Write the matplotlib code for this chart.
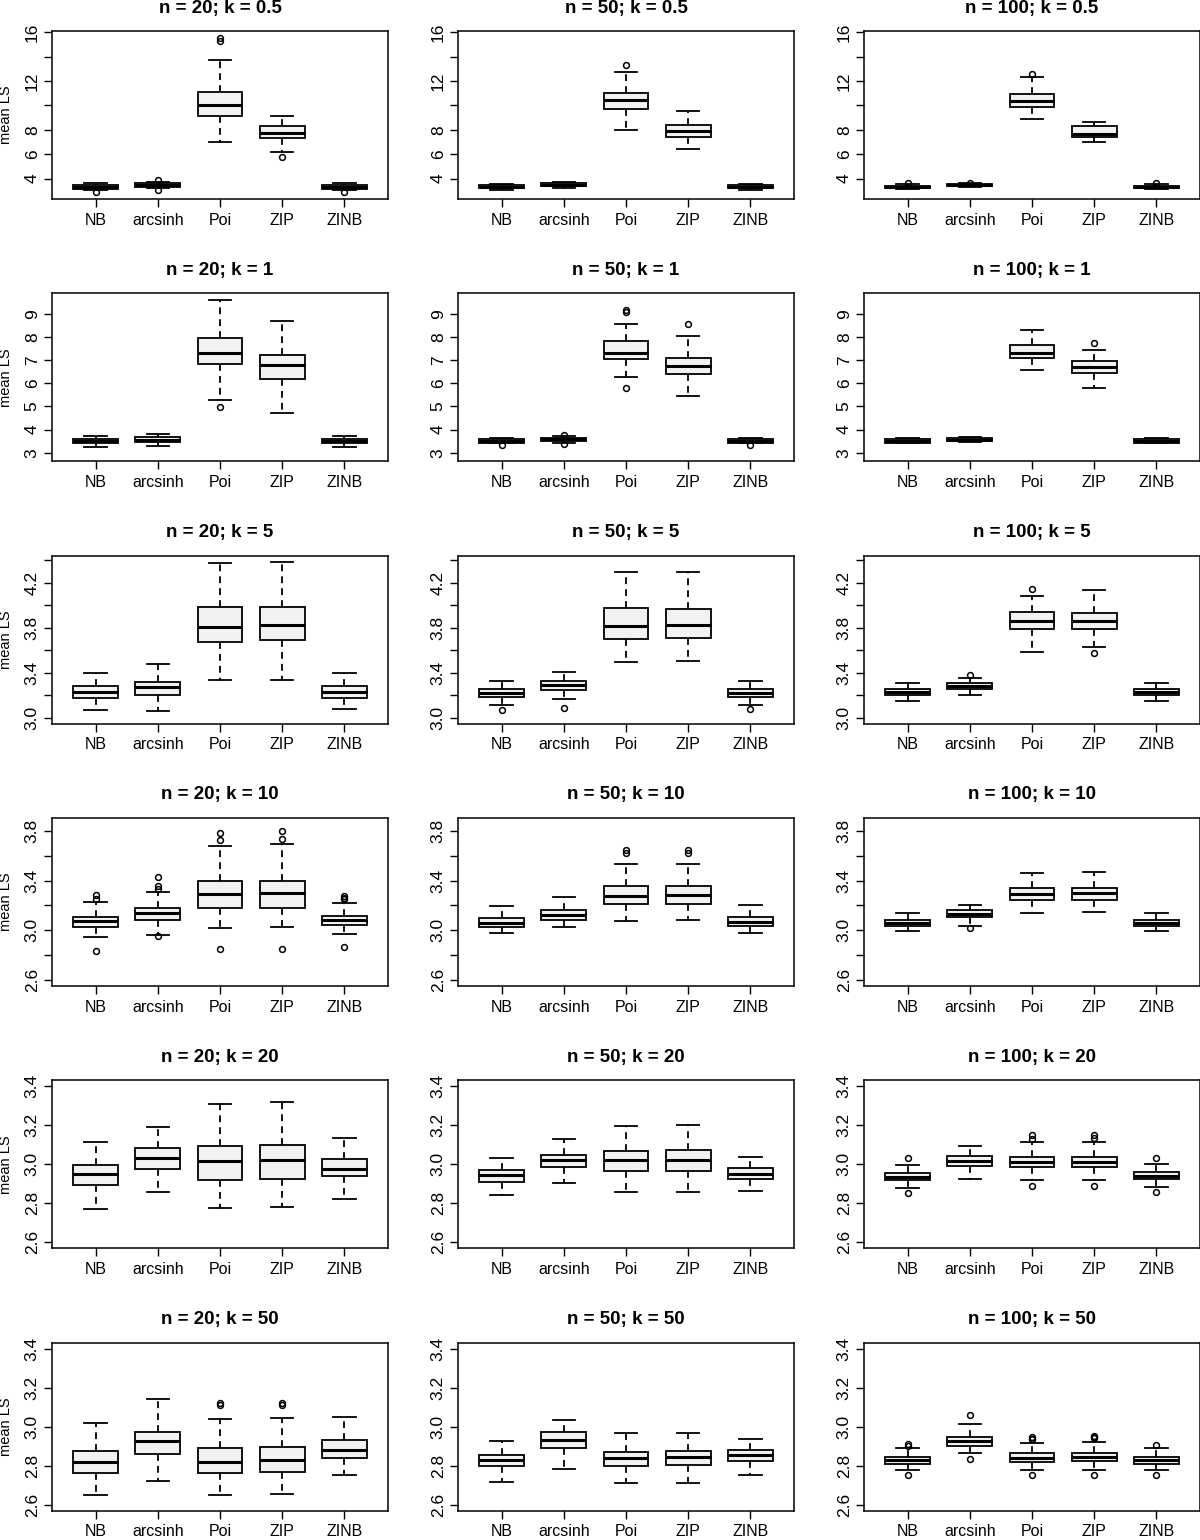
import matplotlib
matplotlib.use("Agg")
import matplotlib.pyplot as plt

plt.rcParams["font.family"] = ["Liberation Sans", "DejaVu Sans"]

methods = ["NB", "arcsinh", "Poi", "ZIP", "ZINB"]
n_values = [20, 50, 100]
k_values = [0.5, 1, 5, 10, 20, 50]

# each box: [lower whisker, q1, median, q3, upper whisker]
s_n20_k05 = [[3.07, 3.18, 3.32, 3.45, 3.67], [3.20, 3.34, 3.48, 3.62, 3.75],
             [7.03, 9.11, 10.0, 11.1, 13.7], [6.21, 7.31, 7.77, 8.34, 9.16],
             [3.09, 3.18, 3.32, 3.45, 3.67]]
f_n20_k05 = [[2.93], [3.07, 3.86], [15.3, 15.55], [5.75], [2.93]]
s_n50_k05 = [[3.08, 3.22, 3.33, 3.45, 3.58], [3.25, 3.38, 3.50, 3.62, 3.72],
             [7.99, 9.68, 10.42, 11.02, 12.77], [6.40, 7.39, 7.91, 8.43, 9.55],
             [3.05, 3.22, 3.33, 3.45, 3.58]]
f_n50_k05 = [[], [], [13.3], [], []]
s_n100_k05 = [[3.15, 3.23, 3.33, 3.43, 3.54], [3.35, 3.42, 3.48, 3.55, 3.62],
              [8.89, 9.90, 10.37, 10.97, 12.33], [7.03, 7.42, 7.66, 8.34, 8.67],
              [3.15, 3.23, 3.33, 3.43, 3.54]]
f_n100_k05 = [[3.62], [3.68], [12.6], [], [3.62]]

s_n20_k1 = [[3.24, 3.42, 3.50, 3.59, 3.73], [3.30, 3.46, 3.56, 3.66, 3.79],
            [5.28, 6.82, 7.33, 7.96, 9.60], [4.72, 6.20, 6.79, 7.22, 8.68],
            [3.24, 3.42, 3.50, 3.59, 3.73]]
f_n20_k1 = [[], [], [4.98], [], []]
s_n50_k1 = [[3.40, 3.44, 3.51, 3.58, 3.65], [3.43, 3.50, 3.58, 3.65, 3.72],
            [6.29, 7.03, 7.29, 7.85, 8.58], [5.47, 6.40, 6.73, 7.09, 8.05],
            [3.40, 3.44, 3.51, 3.58, 3.65]]
f_n50_k1 = [[3.32], [3.37, 3.77], [5.81, 9.10, 9.16], [8.58], [3.32]]
s_n100_k1 = [[3.40, 3.44, 3.50, 3.58, 3.62], [3.46, 3.51, 3.57, 3.64, 3.70],
             [6.57, 7.09, 7.32, 7.66, 8.29], [5.80, 6.46, 6.72, 6.97, 7.42],
             [3.40, 3.44, 3.50, 3.58, 3.62]]
f_n100_k1 = [[], [], [], [7.76], []]

s_n20_k5 = [[3.074, 3.175, 3.234, 3.281, 3.396], [3.062, 3.207, 3.275, 3.320, 3.476],
            [3.334, 3.675, 3.811, 3.982, 4.373], [3.340, 3.689, 3.825, 3.985, 4.385],
            [3.080, 3.180, 3.234, 3.284, 3.402]]
f_n20_k5 = [[], [], [], [], []]
s_n50_k5 = [[3.112, 3.186, 3.225, 3.260, 3.331], [3.166, 3.249, 3.290, 3.325, 3.405],
            [3.497, 3.704, 3.817, 3.976, 4.296], [3.509, 3.707, 3.825, 3.970, 4.296],
            [3.115, 3.186, 3.225, 3.260, 3.328]]
f_n50_k5 = [[3.074], [3.092], [], [], [3.080]]
s_n100_k5 = [[3.154, 3.207, 3.231, 3.254, 3.311], [3.207, 3.260, 3.287, 3.311, 3.358],
             [3.583, 3.790, 3.864, 3.938, 4.086], [3.627, 3.790, 3.858, 3.932, 4.133],
             [3.154, 3.207, 3.231, 3.254, 3.314]]
f_n100_k5 = [[], [3.379], [4.148], [3.580], []]

s_n20_k10 = [[2.946, 3.024, 3.072, 3.110, 3.225], [2.962, 3.086, 3.139, 3.180, 3.311],
             [3.021, 3.182, 3.295, 3.394, 3.678], [3.027, 3.180, 3.300, 3.397, 3.697],
             [2.973, 3.040, 3.080, 3.115, 3.222]]
f_n20_k10 = [[2.831, 3.255, 3.282], [2.954, 3.330, 3.357, 3.426], [2.850, 3.727, 3.786],
             [2.853, 3.735, 3.799], [2.866, 3.249, 3.263, 3.276]]
s_n50_k10 = [[2.976, 3.027, 3.059, 3.099, 3.198], [3.024, 3.083, 3.123, 3.164, 3.265],
             [3.075, 3.212, 3.279, 3.354, 3.531], [3.080, 3.214, 3.284, 3.359, 3.536],
             [2.981, 3.032, 3.067, 3.107, 3.201]]
f_n50_k10 = [[], [], [3.625, 3.645], [3.625, 3.645], []]
s_n100_k10 = [[2.997, 3.035, 3.059, 3.086, 3.139], [3.035, 3.105, 3.131, 3.161, 3.206],
              [3.142, 3.247, 3.295, 3.343, 3.464], [3.145, 3.247, 3.298, 3.343, 3.466],
              [2.997, 3.035, 3.059, 3.086, 3.139]]
f_n100_k10 = [[], [3.019], [], [], []]

s_n20_k20 = [[2.769, 2.892, 2.947, 2.997, 3.113], [2.856, 2.973, 3.029, 3.084, 3.191],
             [2.774, 2.916, 3.017, 3.091, 3.309], [2.778, 2.921, 3.022, 3.097, 3.318],
             [2.819, 2.937, 2.974, 3.024, 3.132]]
f_n20_k20 = [[], [], [], [], []]
s_n50_k20 = [[2.843, 2.909, 2.942, 2.969, 3.032], [2.904, 2.985, 3.021, 3.048, 3.128],
             [2.856, 2.966, 3.021, 3.067, 3.197], [2.856, 2.966, 3.021, 3.072, 3.200],
             [2.863, 2.921, 2.950, 2.979, 3.039]]
f_n50_k20 = [[], [], [], [], []]
s_n100_k20 = [[2.877, 2.918, 2.935, 2.956, 2.997], [2.923, 2.990, 3.017, 3.041, 3.094],
              [2.920, 2.985, 3.010, 3.039, 3.111], [2.920, 2.985, 3.012, 3.039, 3.115],
              [2.882, 2.921, 2.938, 2.959, 2.998]]
f_n100_k20 = [[2.850, 3.029], [], [2.887, 3.130, 3.149], [2.889, 3.132, 3.152], [2.856, 3.029]]

s_n20_k50 = [[2.651, 2.767, 2.821, 2.879, 3.019], [2.726, 2.860, 2.927, 2.974, 3.141],
             [2.651, 2.767, 2.823, 2.893, 3.039], [2.656, 2.772, 2.830, 2.900, 3.048],
             [2.756, 2.843, 2.882, 2.932, 3.053]]
f_n20_k50 = [[], [], [3.110, 3.122], [3.110, 3.122], []]
s_n50_k50 = [[2.721, 2.801, 2.831, 2.859, 2.927], [2.785, 2.893, 2.934, 2.973, 3.034],
             [2.712, 2.802, 2.843, 2.872, 2.968], [2.714, 2.806, 2.848, 2.876, 2.969],
             [2.756, 2.825, 2.855, 2.881, 2.940]]
f_n50_k50 = [[], [], [], [], []]
s_n100_k50 = [[2.779, 2.813, 2.830, 2.848, 2.893], [2.865, 2.905, 2.928, 2.951, 3.014],
              [2.780, 2.823, 2.843, 2.865, 2.920], [2.780, 2.825, 2.847, 2.867, 2.922],
              [2.779, 2.813, 2.830, 2.848, 2.893]]
f_n100_k50 = [[2.753, 2.905, 2.913], [2.836, 3.063], [2.753, 2.937, 2.940, 2.951],
              [2.753, 2.942, 2.948, 2.954], [2.753, 2.908]]

# y-axis per row (k): limits, ticks, which ticks carry a label
row_ylim = [(2.33, 16.11), (2.63, 9.89), (2.95, 4.443), (2.552, 3.905), (2.568, 3.431), (2.573, 3.432)]
row_ticks = [[4, 6, 8, 10, 12, 14, 16], [3, 4, 5, 6, 7, 8, 9],
             [3.0, 3.2, 3.4, 3.6, 3.8, 4.0, 4.2, 4.4], [2.6, 2.8, 3.0, 3.2, 3.4, 3.6, 3.8],
             [2.6, 2.8, 3.0, 3.2, 3.4], [2.6, 2.8, 3.0, 3.2, 3.4]]
row_labels = [["4", "6", "8", "", "12", "", "16"], ["3", "4", "5", "6", "7", "8", "9"],
              ["3.0", "", "3.4", "", "3.8", "", "4.2", ""], ["2.6", "", "3.0", "", "3.4", "", "3.8"],
              ["2.6", "2.8", "3.0", "3.2", "3.4"], ["2.6", "2.8", "3.0", "3.2", "3.4"]]

stats = {
    (0.5, 20): (s_n20_k05, f_n20_k05), (0.5, 50): (s_n50_k05, f_n50_k05), (0.5, 100): (s_n100_k05, f_n100_k05),
    (1, 20): (s_n20_k1, f_n20_k1), (1, 50): (s_n50_k1, f_n50_k1), (1, 100): (s_n100_k1, f_n100_k1),
    (5, 20): (s_n20_k5, f_n20_k5), (5, 50): (s_n50_k5, f_n50_k5), (5, 100): (s_n100_k5, f_n100_k5),
    (10, 20): (s_n20_k10, f_n20_k10), (10, 50): (s_n50_k10, f_n50_k10), (10, 100): (s_n100_k10, f_n100_k10),
    (20, 20): (s_n20_k20, f_n20_k20), (20, 50): (s_n50_k20, f_n50_k20), (20, 100): (s_n100_k20, f_n100_k20),
    (50, 20): (s_n20_k50, f_n20_k50), (50, 50): (s_n50_k50, f_n50_k50), (50, 100): (s_n100_k50, f_n100_k50),
}

W, H = 1200, 1540
fig = plt.figure(figsize=(12, 15.4), dpi=100)

col_left = [52, 458, 864]
ax_w, ax_h = 336, 168
row_top0, row_step = 31, 262.3

for r, k in enumerate(k_values):
    top = row_top0 + r * row_step
    for c, n in enumerate(n_values):
        ax = fig.add_axes([col_left[c] / W, 1 - (top + ax_h) / H, ax_w / W, ax_h / H])
        boxes, fliers = stats[(k, n)]
        bxp_stats = []
        for name, b, f in zip(methods, boxes, fliers):
            bxp_stats.append({"label": name, "whislo": b[0], "q1": b[1], "med": b[2],
                              "q3": b[3], "whishi": b[4], "fliers": f})
        ax.bxp(bxp_stats, positions=range(1, 6), widths=0.72, patch_artist=True,
               boxprops=dict(facecolor="#f2f2f2", edgecolor="black", linewidth=1.3),
               medianprops=dict(color="black", linewidth=2.2),
               whiskerprops=dict(color="black", linewidth=1.3, linestyle=(0, (3.8, 2.8))),
               capprops=dict(color="black", linewidth=1.3),
               flierprops=dict(marker="o", markerfacecolor="none", markeredgecolor="black",
                               markersize=4.2, markeredgewidth=1.1))
        ax.set_xlim(0.3, 5.7)
        ax.set_ylim(*row_ylim[r])
        ax.set_xticks(range(1, 6))
        ax.set_xticklabels(methods, fontsize=11.5)
        ax.set_yticks(row_ticks[r])
        ax.set_yticklabels(row_labels[r], rotation=90, va="center", fontsize=12.5)
        ax.tick_params(axis="x", length=5.8, width=1.0, pad=4)
        ax.tick_params(axis="y", length=5.8, width=1.0, pad=3)
        for sp in ax.spines.values():
            sp.set_linewidth(1.1)
        ax.text(0.5, 1 + 23 / ax_h, f"n = {n}; k = {k}", transform=ax.transAxes,
                ha="center", va="center", fontsize=13.5, fontweight="bold")
        if c == 0:
            fig.text(6 / W, 1 - (top + ax_h / 2) / H, "mean LS", rotation=90,
                     ha="center", va="center", fontsize=10.5)

fig.savefig("out.png", dpi=100)
